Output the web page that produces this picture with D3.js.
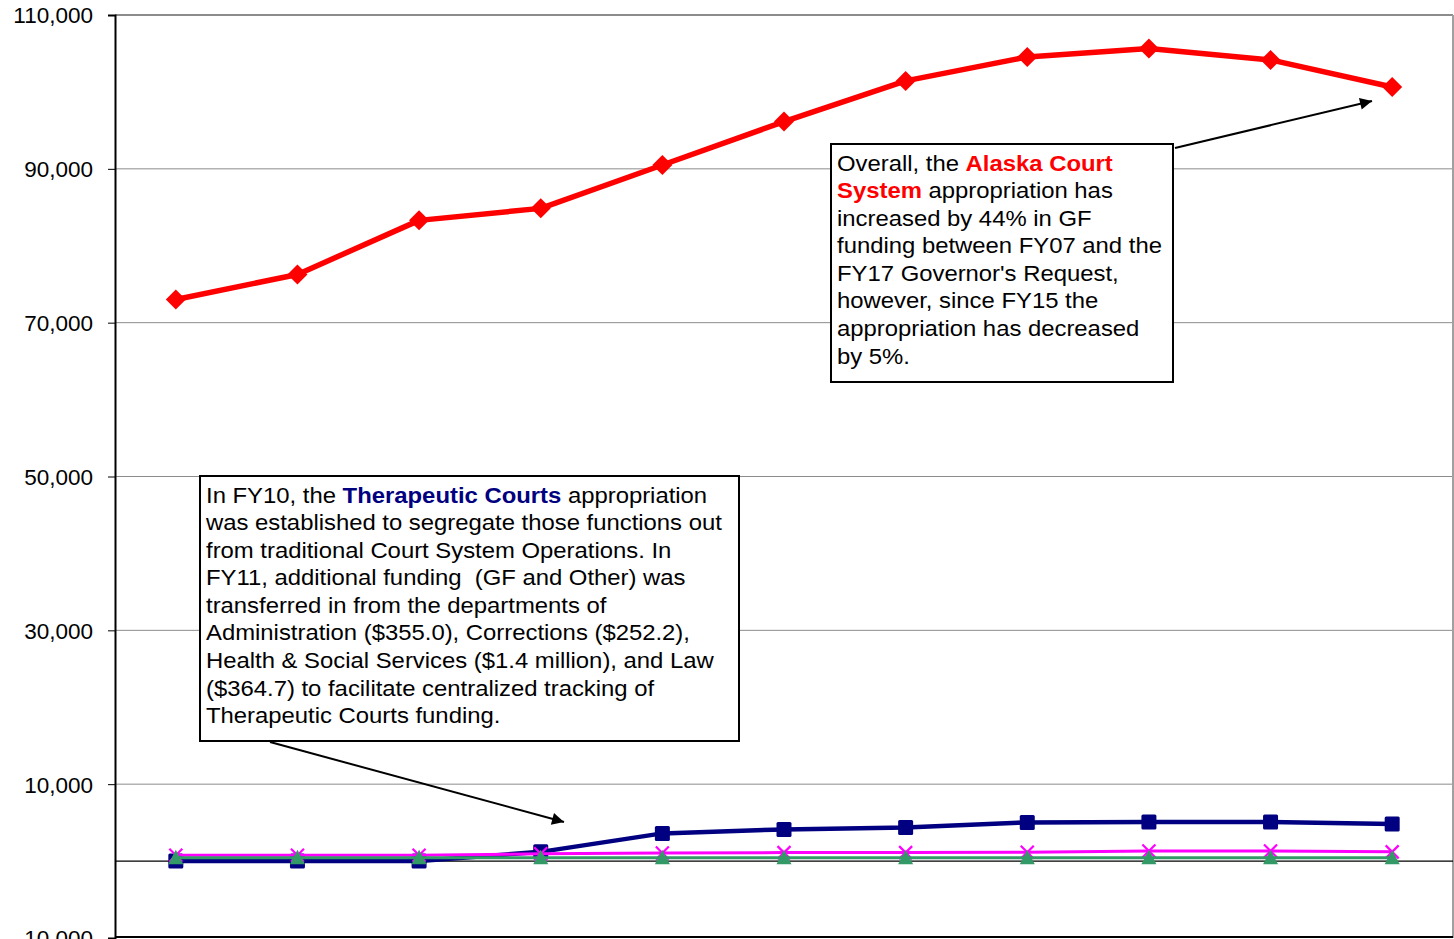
<html>
<head>
<meta charset="utf-8">
<script src="https://d3js.org/d3.v7.min.js"></script>
<style>
body { margin: 0; background: #fff; font-family: 'Liberation Sans', Arial, sans-serif; }
.grid line { stroke: #8c8c8c; stroke-width: 1px; }
.axis text { font-size: 22.5px; fill: #000; font-family: 'Liberation Sans', Arial, sans-serif; }
.note { font-size: 22px; fill: #000; font-family: 'Liberation Sans', Arial, sans-serif; white-space: pre; }
</style>
</head>
<body>
<div id="plot"></div>

<script>
var width = 1454;
var height = 939;

// fiscal years (the category labels are cropped off the bottom of the picture)
var years = ["FY07", "FY08", "FY09", "FY10", "FY11", "FY12", "FY13", "FY14", "FY15", "FY16", "FY17"];

// values, in thousands of dollars
var courtSystem = [73020, 76270, 83300, 84860, 90500, 96140, 101430, 104550, 105640, 104160, 100640];
var therapeutic = [0, 0, 0, 1200, 3600, 4120, 4380, 5030, 5070, 5070, 4810];
var otherSeries = [750, 750, 750, 950, 1050, 1100, 1100, 1150, 1300, 1300, 1200];
var smallSeries = [420, 420, 420, 420, 420, 420, 420, 420, 420, 420, 420];

var yTicks = [-10000, 10000, 30000, 50000, 70000, 90000, 110000];
var gridValues = [10000, 30000, 50000, 70000, 90000];

var svg = d3.select("#plot").append("svg").attr("width", width).attr("height", height);

var xScale = d3.scalePoint().domain(years).range([115, 1453]).padding(0.5);
var yScale = d3.scaleLinear().domain([-10000, 110000]).range([938, 15]);

// gridlines
svg.append("g").attr("class", "grid")
.selectAll("line").data(gridValues)
.enter().append("line")
.attr("x1", 115).attr("x2", 1453)
.attr("y1", function(d) { return yScale(d); })
.attr("y2", function(d) { return yScale(d); });

// plot frame: top and right in gray, bottom black
svg.append("line").attr("x1", 115).attr("x2", 1453).attr("y1", yScale(110000)).attr("y2", yScale(110000))
.style("stroke", "#8c8c8c").style("stroke-width", 2);
svg.append("line").attr("x1", 1453).attr("x2", 1453).attr("y1", 15).attr("y2", 938)
.style("stroke", "#a0a0a0").style("stroke-width", 2);
svg.append("line").attr("x1", 115).attr("x2", 1453).attr("y1", 937).attr("y2", 937)
.style("stroke", "#000").style("stroke-width", 2);

// zero line
svg.append("line").attr("x1", 115).attr("x2", 1453).attr("y1", yScale(0)).attr("y2", yScale(0))
.style("stroke", "#000").style("stroke-width", 1.2);

var comma = d3.format(",");
var yAxis = d3.axisLeft(yScale).tickValues(yTicks).tickSize(7).tickPadding(15)
.tickFormat(function(d) { return d < 0 ? "-" + comma(-d) : comma(d); });

var axisG = svg.append("g").attr("class", "axis").attr("transform", "translate(115,0)").call(yAxis);
axisG.select(".domain").style("stroke", "#000").style("stroke-width", 2);
axisG.selectAll(".tick line").style("stroke", "#000");
axisG.selectAll(".tick text").attr("dy", "0.35em");

var line = d3.line()
.x(function(d, i) { return xScale(years[i]); })
.y(function(d) { return yScale(d); });

function drawLine(values, color, w) {
	svg.append("path").datum(values)
	.attr("d", line)
	.style("fill", "none")
	.style("stroke", color)
	.style("stroke-width", w)
	.style("stroke-linejoin", "round");
}

// navy squares
drawLine(therapeutic, "#000080", 4.5);
svg.selectAll(".sq").data(therapeutic)
.enter().append("rect").attr("class", "sq")
.attr("x", function(d, i) { return xScale(years[i]) - 7.5; })
.attr("y", function(d) { return yScale(d) - 7.5; })
.attr("width", 15).attr("height", 15).attr("rx", 1.5)
.style("fill", "#000080");

// magenta crosses
drawLine(otherSeries, "#ff00ff", 3);
svg.selectAll(".cross").data(otherSeries)
.enter().append("path").attr("class", "cross")
.attr("d", function(d, i) {
	var cx = xScale(years[i]), cy = yScale(d), s = 6.5;
	return "M" + (cx - s) + "," + (cy - s) + "L" + (cx + s) + "," + (cy + s) +
		"M" + (cx - s) + "," + (cy + s) + "L" + (cx + s) + "," + (cy - s);
})
.style("stroke", "#ff00ff").style("stroke-width", 2.2).style("fill", "none");

// green triangles
drawLine(smallSeries, "#339966", 3);
svg.selectAll(".tri").data(smallSeries)
.enter().append("path").attr("class", "tri")
.attr("d", function(d, i) {
	var cx = xScale(years[i]), cy = yScale(d);
	return "M" + cx + "," + (cy - 8) + "L" + (cx + 7.5) + "," + (cy + 6.5) + "L" + (cx - 7.5) + "," + (cy + 6.5) + "Z";
})
.style("fill", "#339966");

// red diamonds
drawLine(courtSystem, "#ff0000", 5.5);
svg.selectAll(".dia").data(courtSystem)
.enter().append("path").attr("class", "dia")
.attr("d", function(d, i) {
	var cx = xScale(years[i]), cy = yScale(d), s = 10;
	return "M" + cx + "," + (cy - s) + "L" + (cx + s) + "," + cy + "L" + cx + "," + (cy + s) + "L" + (cx - s) + "," + cy + "Z";
})
.style("fill", "#ff0000");

// arrow heads
svg.append("defs").append("marker")
.attr("id", "arrow")
.attr("viewBox", "0 0 10 10")
.attr("refX", 10).attr("refY", 5)
.attr("markerWidth", 16).attr("markerHeight", 12)
.attr("markerUnits", "userSpaceOnUse")
.attr("orient", "auto")
.append("path").attr("d", "M0,0L10,5L0,10Z").style("fill", "#000");

// text boxes with call-out arrows
function note(x, y, w, h, lines, arrowFrom, arrowTo) {
	svg.append("line")
	.attr("x1", arrowFrom[0]).attr("y1", arrowFrom[1])
	.attr("x2", arrowTo[0]).attr("y2", arrowTo[1])
	.style("stroke", "#000").style("stroke-width", 2)
	.attr("marker-end", "url(#arrow)");

	svg.append("rect").attr("x", x).attr("y", y).attr("width", w).attr("height", h)
	.style("fill", "#fff").style("stroke", "#000").style("stroke-width", 2);

	var t = svg.append("text").attr("class", "note")
	.attr("transform", "translate(" + (x + 6) + "," + (y + 26.5) + ") scale(1.085,1)");

	lines.forEach(function(parts, i) {
		var row = t.append("tspan").attr("x", 0).attr("y", i * 27.6);
		parts.forEach(function(p) {
			var s = row.append("tspan").text(p.t);
			if (p.c) { s.style("fill", p.c).style("font-weight", "bold"); }
		});
	});
}

note(831, 144, 342, 238, [
	[{ t: "Overall, the " }, { t: "Alaska Court", c: "#ff0000" }],
	[{ t: "System", c: "#ff0000" }, { t: " appropriation has" }],
	[{ t: "increased by 44% in GF" }],
	[{ t: "funding between FY07 and the" }],
	[{ t: "FY17 Governor's Request," }],
	[{ t: "however, since FY15 the" }],
	[{ t: "appropriation has decreased" }],
	[{ t: "by 5%." }]
], [1175, 148], [1372, 101]);

note(200, 476, 539, 265, [
	[{ t: "In FY10, the " }, { t: "Therapeutic Courts", c: "#000080" }, { t: " appropriation" }],
	[{ t: "was established to segregate those functions out" }],
	[{ t: "from traditional Court System Operations. In" }],
	[{ t: "FY11, additional funding  (GF and Other) was" }],
	[{ t: "transferred in from the departments of" }],
	[{ t: "Administration ($355.0), Corrections ($252.2)," }],
	[{ t: "Health & Social Services ($1.4 million), and Law" }],
	[{ t: "($364.7) to facilitate centralized tracking of" }],
	[{ t: "Therapeutic Courts funding." }]
], [270, 742], [564, 822]);

</script>
</body>
</html>
